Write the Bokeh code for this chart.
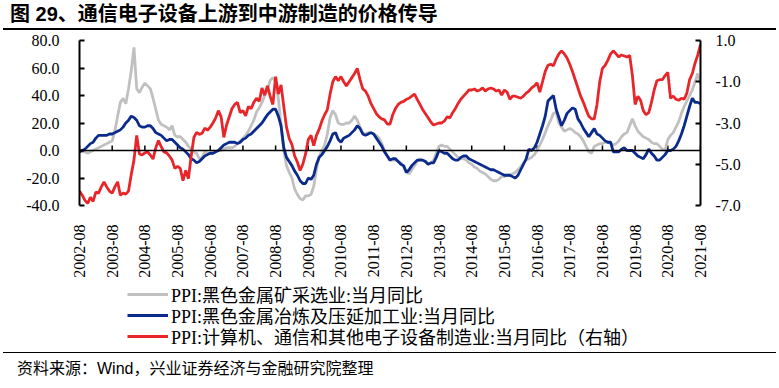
import numpy as np
from bokeh.plotting import figure
from bokeh.models import (Range1d, LinearAxis, FixedTicker, Span, Legend, LegendItem,
                          Div, NumeralTickFormatter)
from bokeh.layouts import column
from bokeh.embed import file_html
from bokeh.resources import INLINE

# ---------------- data (monthly, 2002-08 .. 2021-08) ----------------
tick_labels = ["2002-08", "2003-08", "2004-08", "2005-08", "2006-08", "2007-08", "2008-08",
               "2009-08", "2010-08", "2011-08", "2012-08", "2013-08", "2014-08", "2015-08",
               "2016-08", "2017-08", "2018-08", "2019-08", "2020-08", "2021-08"]

# PPI: ferrous metal mining, YoY (left axis)
mining = [
    0, -1, -1, -2, -1, 0, 1, 2, 3, 4, 5, 6,
    7, 14, 25, 35, 38, 34, 45, 58, 75, 45, 42, 46,
    49, 47, 45, 38, 30, 22, 19, 18, 17, 15, 18, 11,
    10, 10, 8, 6, 3, 1, -1, -2, -6, -5, -1, -2,
    -2, -2, -1, 0, 0, 1, 2, 2, 2, 3, 5, 7,
    9, 11, 14, 18, 22, 28, 31, 35, 40, 44, 51, 53,
    50, 38, 18, 0, -11, -16, -20, -28, -32, -35, -36, -33,
    -33, -32, -26, -14, -4, 0, 4, 12, 24, 29, 26, 20,
    19, 19, 20, 20, 22, 25, 22, 17, 13, 12, 13, 13,
    12, 11, 9, 5, 0, -4, -7, -7, -7, -8, -9, -12,
    -15, -17, -14, -11, -8, -6, -7, -8, -10, -9, -7, -2,
    3, 4, 3, 3, 1, -1, -3, -5, -6, -6, -7, -9,
    -10, -12, -13, -15, -16, -17, -19, -21, -22, -22, -21, -19,
    -19, -18, -18, -17, -16, -14, -12, -9, -7, -6, -5, -3,
    0, 4, 8, 13, 18, 22, 27, 28, 20, 17, 14, 15,
    16, 15, 13, 12, 10, 7, 3, -1, -2, 3, 4, 5,
    5, 6, 6, 5, 4, 5, 7, 10, 12, 13, 18, 23,
    18, 14, 12, 10, 9, 8, 6, 5, 5, 3, 1, 0,
    8, 11, 13, 17, 21, 27, 32, 36, 40, 44, 50, 56, 48,
]

# PPI: ferrous metal smelting & rolling, YoY (left axis)
smelting = [
    -1, 0, 1, 3, 5, 6, 9, 11, 11, 11, 11, 12,
    12, 13, 14, 15, 17, 20, 22, 25, 24, 22, 18, 17,
    17, 18, 18, 16, 13, 12, 11, 9, 7, 8, 8, 6,
    4, 2, 1, -1, -3, -6, -7, -9, -8, -6, -4, -3,
    -2, -2, -1, 0, 2, 4, 5, 6, 6, 6, 5, 6,
    8, 9, 11, 12, 14, 16, 18, 20, 23, 26, 28, 30,
    30, 25, 18, 2, -5, -8, -11, -15, -18, -22, -24, -24,
    -20, -21, -18, -10, -5, -3, 0, 3, 7, 12, 13, 8,
    6, 9, 10, 11, 13, 15, 18, 16, 12, 11, 12, 13,
    12, 9, 6, 3, -1, -4, -7, -6, -6, -8, -10, -11,
    -16, -14, -11, -9, -7, -7, -7, -8, -10, -9, -9, -5,
    0, -1, -2, -2, -4, -6, -7, -7, -5, -4, -4, -6,
    -7, -8, -9, -10, -11, -12, -13, -14, -14, -15, -16, -17,
    -18, -18, -18, -19, -20, -18, -14, -10, -6, 1, 0, 2,
    6, 12, 18, 25, 36, 38, 40, 30, 24, 18, 22, 27,
    29, 31, 30, 23, 20, 16, 13, 10, 13, 16, 12, 11,
    9, 7, 6, 6, -1, -1, -1, 1, 2, 0, 0, 0,
    -2, -4, -5, -6, -3, 1, -2, -4, -7, -7, -5, -3,
    0, 0, 1, 3, 7, 12, 18, 25, 32, 38, 35, 35, 34,
]

# PPI: computer, communication & other electronic equipment, YoY (right axis)
electronics = [
    -6.3, -6.5, -6.75, -6.9, -6.6, -6.8, -6.35, -6.4, -6.1, -5.85, -6.1, -6.3,
    -6.4, -6.1, -5.85, -6.5, -6.4, -6.45, -6.3, -5.5, -4.8, -3.6, -4.5, -4.55,
    -4.45, -4.4, -4.55, -4.75, -4.2, -3.85, -4.15, -4.4, -4.45, -4.6, -4.8, -5.2,
    -5.1, -5.2, -5.8, -5.3, -5.7, -4.6, -3.7, -3.45, -3.55, -3.5, -3.25, -3.35,
    -3.2, -3.0, -2.75, -2.4, -2.7, -3.7, -3.1, -2.7, -2.3, -2.1, -2.0, -2.5,
    -2.4, -2.65, -2.2, -2.3, -2.0, -1.8, -1.95, -1.3, -1.65, -1.2, -1.7, -2.1,
    -0.75, -1.6, -1.15, -2.2, -3.2, -3.75, -4.05, -4.6, -4.9, -5.3, -5.0, -4.5,
    -3.8, -3.6, -4.1, -3.6, -3.3, -2.9, -2.6, -2.35, -1.6, -1.0, -0.75, -0.95,
    -0.75, -1.0, -1.2, -1.0, -0.8, -0.6, -0.35, -0.9, -1.35, -1.45, -1.7, -2.05,
    -2.3, -2.55, -2.7, -2.8, -2.85, -3.05, -3.05, -2.6, -2.3, -2.1, -2.0, -1.95,
    -1.85, -1.8, -1.7, -1.6, -1.85, -2.1, -2.35, -2.55, -2.75, -2.95, -3.1, -3.05,
    -3.0, -3.0, -2.9, -2.7, -2.75, -2.5, -2.3, -2.05, -1.85, -1.7, -1.55, -1.4,
    -1.4, -1.35, -1.45, -1.4, -1.3, -1.45, -1.35, -1.3, -1.35, -1.45, -1.4, -1.65,
    -1.4, -1.5, -1.85, -1.7, -1.7, -1.75, -1.8, -1.7, -1.55, -1.45, -1.3, -1.2,
    -1.05, -1.5, -1.0, -0.5, -0.2, -0.15, -0.22, 0.1, 0.35, 0.5, 0.35, 0.15,
    -0.15, -0.5, -0.9, -1.3, -1.7, -2.0, -2.35, -2.67, -2.8, -2.8, -2.1, -1.0,
    -0.35, -0.2, 0.05, 0.35, 0.5, 0.35, 0.2, 0.3, 0.25, 0.2, 0.28, -0.7,
    -2.1, -1.7, -1.9, -2.4, -2.6, -2.5, -2.0, -1.4, -0.95, -0.9, -0.9, -0.7,
    -0.55, -1.8, -1.7, -1.85, -1.9, -1.8, -1.85, -1.55, -0.9, -0.6, -0.1, 0.3, 0.8,
]

series_names = ["PPI:黑色金属矿采选业:当月同比",
                "PPI:黑色金属冶炼及压延加工业:当月同比",
                "PPI:计算机、通信和其他电子设备制造业:当月同比（右轴）"]
left_ticks = [-40, -20, 0, 20, 40, 60, 80]
right_ticks = [-7, -5, -3, -1, 1]
title_text = "图 29、通信电子设备上游到中游制造的价格传导"
source_text = "资料来源：Wind，兴业证券经济与金融研究院整理"

months = list(range(len(smelting)))
tick_pos = [12 * i for i in range(len(tick_labels))]

SERIF = "'Liberation Serif', 'Noto Sans CJK SC'"
GRAY, BLUE, RED = "#C0C0C0", "#0B2B8C", "#E8262A"
LW = 2.8
W = 779

# ---------------- title ----------------
title_div = Div(
    text=("<div style=\"font-family:'Liberation Sans','Noto Sans CJK SC';font-weight:bold;"
          "font-size:20px;line-height:20px;height:30px;width:773px;margin:0 0 0 3px;"
          "padding:4px 0 0 7px;border-bottom:2px solid black;box-sizing:border-box;"
          "white-space:nowrap;color:black;\">" + title_text + "</div>"),
    width=W, height=30, margin=0)

# ---------------- main chart ----------------
p = figure(width=W, height=252, title=None,
           x_range=Range1d(0, 228), y_range=Range1d(-40, 80),
           output_backend="svg", toolbar_location=None,
           min_border_left=79, min_border_right=79, min_border_top=10, min_border_bottom=77)
p.extra_y_ranges = {"right": Range1d(-7, 1)}
p.outline_line_color = None
p.xgrid.visible = False
p.ygrid.visible = False

xa = p.xaxis[0]
xa.ticker = FixedTicker(ticks=tick_pos)
xa.major_label_overrides = {pos: lab for pos, lab in zip(tick_pos, tick_labels)}
xa.major_label_orientation = np.pi / 2
xa.axis_line_color = None
xa.major_tick_line_color = None
xa.minor_tick_line_color = None
xa.major_label_standoff = 13
xa.major_label_text_font = SERIF
xa.major_label_text_font_size = "16px"
xa.major_label_text_color = "black"

ya = p.yaxis[0]
ya.ticker = FixedTicker(ticks=left_ticks)
ya.formatter = NumeralTickFormatter(format="0.0")
ra = LinearAxis(y_range_name="right", ticker=FixedTicker(ticks=right_ticks),
                formatter=NumeralTickFormatter(format="0.0"))
p.add_layout(ra, "right")
for ax, standoff in ((ya, 20), (ra, 15)):
    ax.axis_line_width = 2
    ax.axis_line_color = "black"
    ax.major_tick_in = 5
    ax.major_tick_out = 0
    ax.major_tick_line_width = 2
    ax.minor_tick_line_color = None
    ax.major_label_standoff = standoff
    ax.major_label_text_font = SERIF
    ax.major_label_text_font_size = "16px"
    ax.major_label_text_color = "black"

p.add_layout(Span(location=0, dimension="width", line_color="black", line_width=1.5))
p.segment(x0=tick_pos, y0=[0] * len(tick_pos), x1=tick_pos, y1=[3.6] * len(tick_pos),
          line_color="black", line_width=1.5)

p.line(months, mining, line_color=GRAY, line_width=LW)
p.line(months, smelting, line_color=BLUE, line_width=LW)
p.line(months, electronics, line_color=RED, line_width=LW, y_range_name="right")

# ---------------- legend strip (frame aligned with the chart: x 79..700) ----------------
pl = figure(width=W, height=70, title=None, x_range=Range1d(0, 1), y_range=Range1d(0, 1),
            output_backend="svg", toolbar_location=None,
            x_axis_location=None, y_axis_location=None,
            min_border_left=79, min_border_right=79, min_border_top=0, min_border_bottom=0)
pl.grid.visible = False
pl.outline_line_color = None
legend_renderers = [
    pl.line(months, mining, line_color=GRAY, line_width=LW, visible=False),
    pl.line(months, smelting, line_color=BLUE, line_width=LW, visible=False),
    pl.line(months, electronics, line_color=RED, line_width=LW, visible=False),
]
for name, rend, vy in zip(series_names, legend_renderers, (45.5, 24.5, 3.5)):
    pl.add_layout(Legend(items=[LegendItem(label=name, renderers=[rend])],
                         location=(48, vy), orientation="vertical",
                         padding=0, margin=0, spacing=0,
                         glyph_width=41, glyph_height=26, label_height=26, label_standoff=3,
                         label_text_font=SERIF, label_text_font_size="18px",
                         label_text_color="black", inactive_fill_alpha=0,
                         border_line_color=None, background_fill_alpha=0))

# ---------------- source ----------------
src_div = Div(
    text=("<div style=\"font-family:'Liberation Sans','Noto Sans CJK SC';font-size:16px;"
          "line-height:18px;width:773px;margin:0 0 0 3px;border-top:1.5px solid black;"
          "padding:7px 0 0 14px;box-sizing:border-box;white-space:nowrap;color:black;\">"
          + source_text + "</div>"),
    width=W, height=36, margin=0)

layout = column(title_div, p, pl, src_div, spacing=0,
                styles={"position": "absolute", "left": "0px", "top": "0px"})

open("out.html", "w").write(file_html(layout, INLINE))
